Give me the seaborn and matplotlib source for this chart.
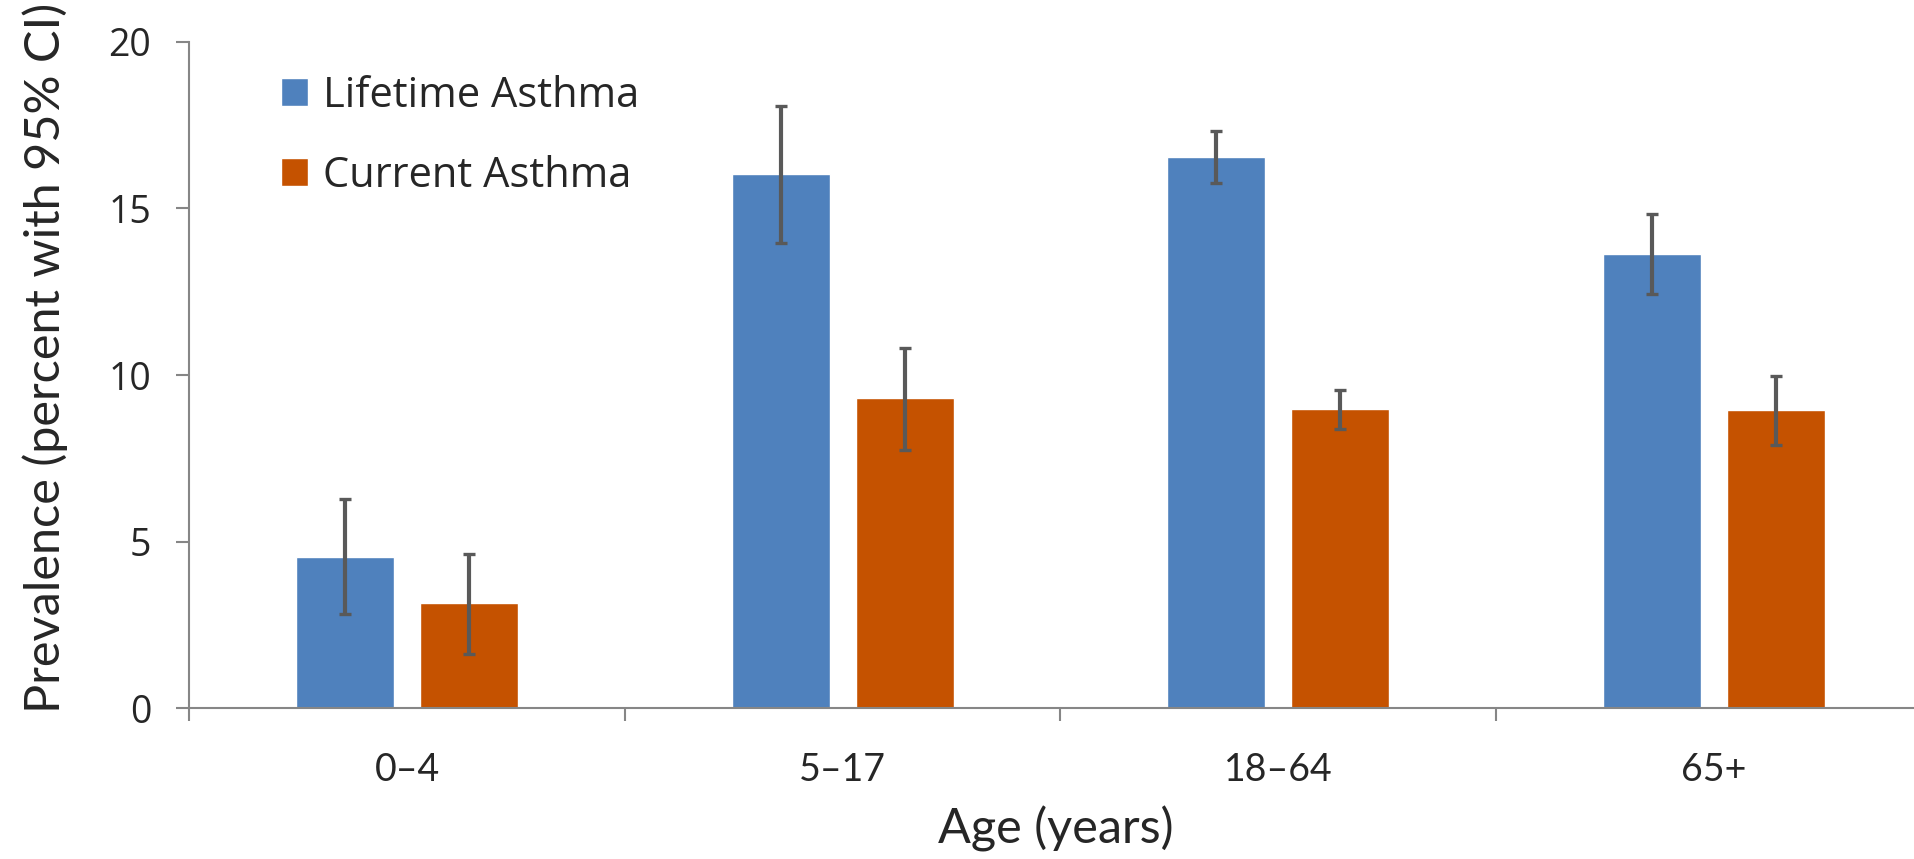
import matplotlib
matplotlib.use("Agg")
import matplotlib.pyplot as plt
import seaborn as sns
import pandas as pd
import numpy as np

# data
age_groups = ["0–4", "5–17", "18–64", "65+"]
series_names = ["Lifetime Asthma", "Current Asthma"]
lifetime = [4.55, 16.03, 16.54, 13.62]
lifetime_low = [2.84, 13.97, 15.77, 12.43]
lifetime_high = [6.28, 18.08, 17.31, 14.82]
current = [3.16, 9.30, 8.98, 8.96]
current_low = [1.63, 7.76, 8.38, 7.90]
current_high = [4.64, 10.81, 9.54, 9.98]
colors = ["#4F81BD", "#C55200"]

df = pd.DataFrame({
    "age": age_groups * 2,
    "series": [series_names[0]] * 4 + [series_names[1]] * 4,
    "value": lifetime + current,
})

sns.set_style("white")
plt.rcParams["font.family"] = ["Open Sans", "DejaVu Sans"]
narrow = ["Lato", "DejaVu Sans"]

fig = plt.figure(figsize=(19.14, 8.59), dpi=100)
ax = fig.add_axes([0.0989, 0.1754, 0.9103, 0.776])

sns.barplot(
    data=df,
    x="age",
    y="value",
    hue="series",
    palette=colors,
    saturation=1,
    width=0.57,
    gap=0.21,
    errorbar=None,
    ax=ax
)

lows = [lifetime_low, current_low]
highs = [lifetime_high, current_high]
vals = [lifetime, current]
for cont, v, lo, hi in zip(ax.containers, vals, lows, highs):
    xs = [b.get_x() + b.get_width() / 2 for b in cont]
    v = np.array(v)
    ax.errorbar(
        xs,
        v,
        yerr=[v - np.array(lo), np.array(hi) - v],
        fmt="none",
        ecolor="#595959",
        elinewidth=3,
        capsize=4.3,
        capthick=2.4
    )

ax.set_xlim(-0.5, 3.5)
ax.set_ylim(0, 20)
ax.set_yticks([0, 5, 10, 15, 20])

axis_gray = "#868686"
for side in ["top", "right"]:
    ax.spines[side].set_visible(False)
for side in ["left", "bottom"]:
    ax.spines[side].set_color(axis_gray)
    ax.spines[side].set_linewidth(1.5)

ax.tick_params(axis="y", direction="out", length=9.4, width=1.5,
               color=axis_gray, pad=18, labelsize=27, left=True)
ax.tick_params(axis="x", which="major", length=0, pad=31.5, labelsize=27)
ax.set_xticks([-0.5, 0.5, 1.5, 2.5, 3.5], minor=True)
ax.tick_params(axis="x", which="minor", direction="out", length=9,
               width=1.5, color=axis_gray, bottom=True)
for lab in ax.get_xticklabels():
    lab.set_family(narrow)

ax.set_xlabel("Age (years)", family=narrow, fontsize=35)
ax.set_ylabel("Prevalence (percent with 95% CI)", family="Lato", fontsize=35)
ax.xaxis.set_label_coords(0.4974, -0.146)
ax.yaxis.set_label_coords(-0.0696, 0.525)

ax.legend(
    loc="upper left",
    bbox_to_anchor=(0.0526, 0.9505),
    frameon=False,
    fontsize=30,
    handlelength=0.65,
    handleheight=0.65,
    handletextpad=0.36,
    labelspacing=0.91,
    borderpad=0,
    borderaxespad=0,
    title=None
)

fig.savefig("out.png", dpi=100)
plt.close(fig)
